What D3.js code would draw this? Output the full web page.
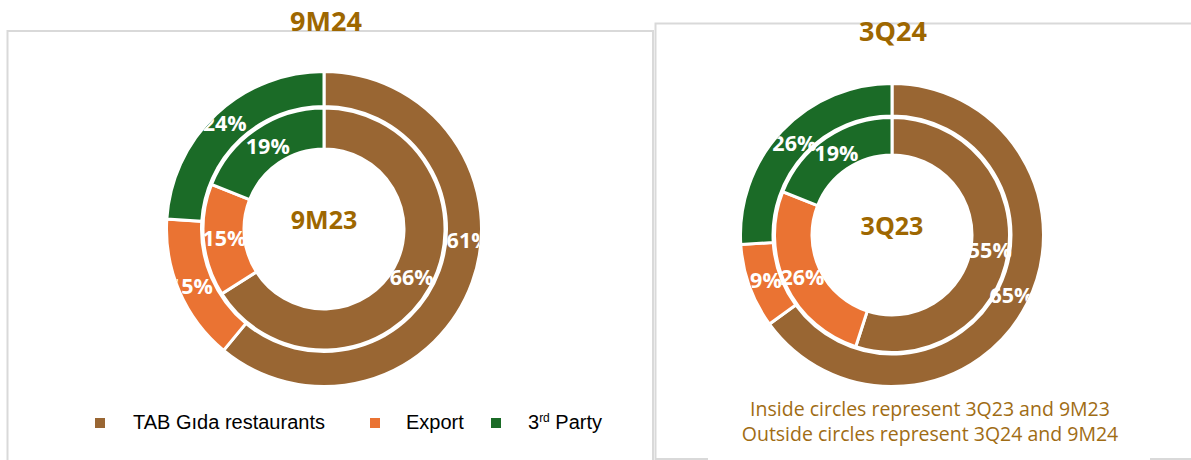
<!DOCTYPE html>
<html>
<head>
<meta charset="utf-8">
<script src="https://cdn.jsdelivr.net/npm/d3@7"></script>
<style>
  body { margin: 0; background: #fff; }
  svg { display: block; }
</style>
</head>
<body>
<div id="chart"></div>
<script>
// data
const categories = ["TAB Gıda restaurants", "Export", "3rd Party"];
const colors = ["#996633", "#EA7333", "#1B6B27"];
const outer9M24 = [61, 15, 24];
const inner9M23 = [66, 15, 19];
const outer3Q24 = [65, 9, 26];
const inner3Q23 = [55, 26, 19];
const panelTitles = ["9M24", "3Q24"];
const centerLabels = ["9M23", "3Q23"];
const footnotes = ["Inside circles represent 3Q23 and 9M23", "Outside circles represent 3Q24 and 9M24"];

const width = 1191, height = 460;
const gold = "#9E6700";

const svg = d3.select("#chart").append("svg")
  .attr("width", width)
  .attr("height", height);

// panel frames
const frame = svg.append("g")
  .attr("fill", "none")
  .attr("stroke", "#d9d9d9")
  .attr("stroke-width", 2);

frame.append("path").attr("d", "M7.5,470 V31 H653 V470");
frame.append("path").attr("d", "M655.5,470 V23.5 H1200");
frame.append("path").attr("d", "M655.5,459 H708 M1150,459 H1200");

// title gaps + titles
function panelTitle(text, x0, x1, y, cx) {
  svg.append("rect")
    .attr("x", x0).attr("y", y - 6)
    .attr("width", x1 - x0).attr("height", 12)
    .attr("fill", "#fff");
  svg.append("text")
    .attr("x", cx).attr("y", y)
    .attr("text-anchor", "middle")
    .attr("dy", "0.35em")
    .attr("fill", gold)
    .style("font-family", "'Open Sans', sans-serif")
    .style("font-weight", 700)
    .style("font-size", "27px")
    .text(text);
}
panelTitle(panelTitles[0], 265, 388, 22, 326);
panelTitle(panelTitles[1], 831, 955, 32, 893);

const pieFn = d3.pie().sort(null).value(d => d);

// labelFrac: where along the slice the label sits (0.5 = centroid), per ring / slice
function buildDonut(id, cx, cy, r, innerValues, outerValues, centerText, labelFrac) {
  const g = svg.append("g").attr("transform", `translate(${cx},${cy})`);

  svg.append("clipPath").attr("id", "clip-" + id)
    .append("circle").attr("r", r.outer);

  const rings = [
    {values: innerValues, arcFn: d3.arc().innerRadius(r.hole).outerRadius(r.mid1), lr: r.lab1},
    {values: outerValues, arcFn: d3.arc().innerRadius(r.mid2).outerRadius(r.outer + 1.5), lr: r.lab2}
  ];

  rings.forEach(ring => {
    const pieData = pieFn(ring.values);
    g.selectAll(null)
      .data(pieData)
      .enter().append("path")
        .attr("d", ring.arcFn)
        .attr("fill", (d, i) => colors[i])
        .attr("stroke", "#fff")
        .attr("stroke-width", 3);
  });

  const labels = g.append("g").attr("clip-path", `url(#clip-${id})`);
  rings.forEach((ring, ri) => {
    const pieData = pieFn(ring.values);
    labels.selectAll(null)
      .data(pieData)
      .enter().append("text")
        .attr("transform", (d, i) => {
          const f = (labelFrac && labelFrac[ri] && labelFrac[ri][i] != null) ? labelFrac[ri][i] : 0.5;
          const a = d.startAngle + (d.endAngle - d.startAngle) * f;
          return `translate(${ring.lr * Math.sin(a)},${-ring.lr * Math.cos(a)})`;
        })
        .attr("text-anchor", "middle")
        .attr("dy", "0.35em")
        .attr("fill", "#fff")
        .style("font-family", "'Open Sans', sans-serif")
        .style("font-weight", 700)
        .style("font-size", "21.5px")
        .text(d => `${d.data}%`);
  });

  g.append("text")
    .attr("text-anchor", "middle")
    .attr("y", -9)
    .attr("dy", "0.35em")
    .attr("fill", gold)
    .style("font-family", "'Open Sans', sans-serif")
    .style("font-weight", 700)
    .style("font-size", "25px")
    .text(centerText);
}

buildDonut("left", 324, 229, {hole: 80, mid1: 121, mid2: 122.5, outer: 156, lab1: 100, lab2: 145},
  inner9M23, outer9M24, centerLabels[0], [null, [0.43]]);
buildDonut("right", 892, 235, {hole: 80, mid1: 117.5, mid2: 119, outer: 150, lab1: 99, lab2: 134},
  inner3Q23, outer3Q24, centerLabels[1], null);

// legend
const legendX = [95, 370, 491];
const legendTextX = [133, 406, 528];
const legend = svg.append("g")
  .style("font-family", "'Liberation Sans', Arial, sans-serif")
  .style("font-size", "20px")
  .attr("fill", "#000");

categories.forEach((c, i) => {
  legend.append("rect")
    .attr("x", legendX[i]).attr("y", 418)
    .attr("width", 10).attr("height", 10)
    .attr("fill", colors[i]);
  const t = legend.append("text")
    .attr("x", legendTextX[i]).attr("y", 429);
  if (c === "3rd Party") {
    t.append("tspan").text("3");
    t.append("tspan").attr("dy", -7).style("font-size", "12px").text("rd");
    t.append("tspan").attr("dy", 7).text(" Party");
  } else {
    t.text(c);
  }
});

// footnote
svg.append("g")
  .selectAll("text")
  .data(footnotes)
  .enter().append("text")
    .attr("x", 930)
    .attr("y", (d, i) => 416 + i * 25)
    .attr("text-anchor", "middle")
    .attr("fill", "#A06C14")
    .style("font-family", "'Open Sans', sans-serif")
    .style("font-size", "19.5px")
    .text(d => d);
</script>
</body>
</html>
